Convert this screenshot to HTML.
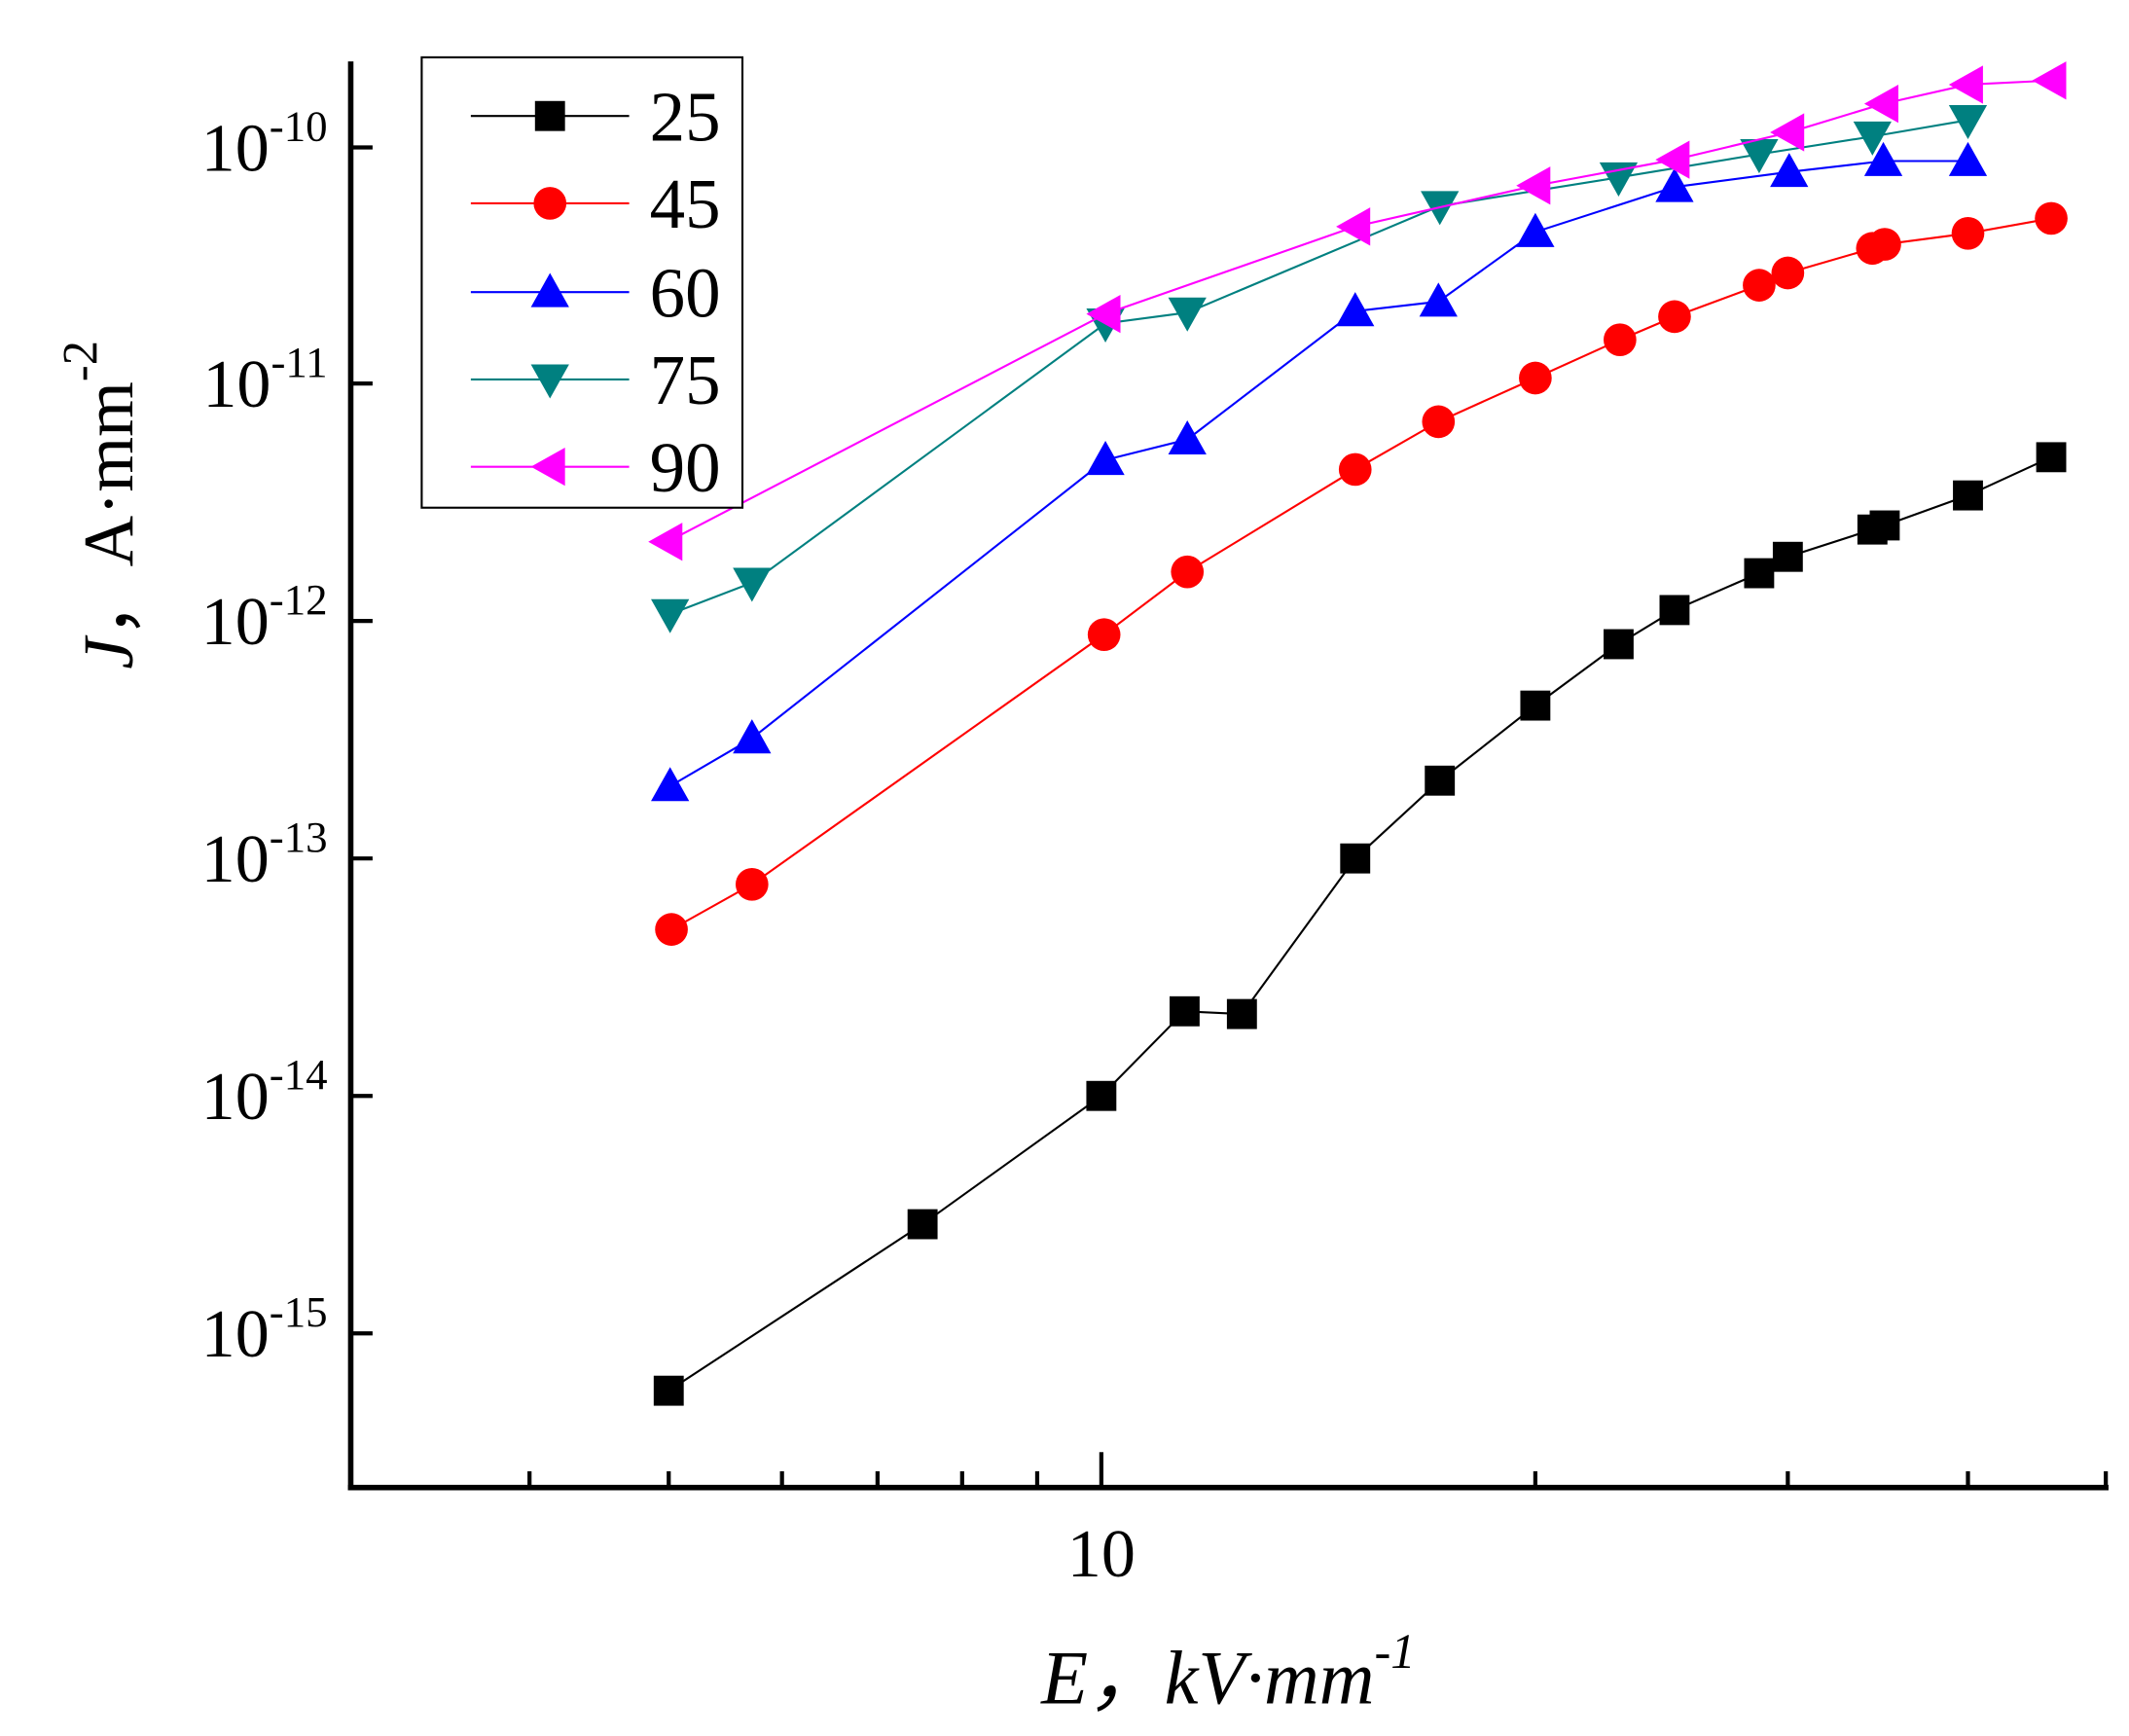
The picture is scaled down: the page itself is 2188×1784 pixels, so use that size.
<!DOCTYPE html>
<html><head><meta charset="utf-8"><style>html,body{margin:0;padding:0;background:#fff}svg{display:block}svg text{font-family:"Liberation Serif",serif}</style></head><body>
<svg width="2188" height="1784" viewBox="0 0 1560 1272" preserveAspectRatio="none" xmlns="http://www.w3.org/2000/svg">
<rect width="1560" height="1272" fill="#fff"/>
<line x1="257" y1="45" x2="257" y2="1092" stroke="#000" stroke-width="4"/>
<line x1="255" y1="1090" x2="1545" y2="1090" stroke="#000" stroke-width="4"/>
<g stroke="#000" stroke-width="3">
<line x1="257" y1="108" x2="273" y2="108"/><line x1="257" y1="281" x2="273" y2="281"/><line x1="257" y1="455" x2="273" y2="455"/>
<line x1="257" y1="629" x2="273" y2="629"/><line x1="257" y1="803" x2="273" y2="803"/><line x1="257" y1="977" x2="273" y2="977"/>
<line x1="388" y1="1090" x2="388" y2="1078"/><line x1="490" y1="1090" x2="490" y2="1078"/><line x1="573" y1="1090" x2="573" y2="1078"/>
<line x1="643" y1="1090" x2="643" y2="1078"/><line x1="705" y1="1090" x2="705" y2="1078"/><line x1="760" y1="1090" x2="760" y2="1078"/>
<line x1="807" y1="1090" x2="807" y2="1064"/><line x1="1125" y1="1090" x2="1125" y2="1078"/><line x1="1310" y1="1090" x2="1310" y2="1078"/>
<line x1="1442" y1="1090" x2="1442" y2="1078"/><line x1="1543" y1="1090" x2="1543" y2="1078"/>
</g>
<g font-size="50" fill="#000" text-anchor="end">
<text x="240" y="125">10<tspan dy="-22" font-size="32">-10</tspan></text>
<text x="240" y="298">10<tspan dy="-22" font-size="32">-11</tspan></text>
<text x="240" y="472">10<tspan dy="-22" font-size="32">-12</tspan></text>
<text x="240" y="646">10<tspan dy="-22" font-size="32">-13</tspan></text>
<text x="240" y="820">10<tspan dy="-22" font-size="32">-14</tspan></text>
<text x="240" y="994">10<tspan dy="-22" font-size="32">-15</tspan></text>
</g>
<text x="807" y="1155" font-size="50" text-anchor="middle">10</text>
<text x="900" y="1248" font-size="56" text-anchor="middle" font-style="italic">E，kV·mm<tspan dy="-26" font-size="36">-1</tspan></text>
<text transform="translate(97,370) rotate(-90)" font-size="52" text-anchor="middle"><tspan font-style="italic">J</tspan>，A·mm<tspan dy="-26" font-size="36">-2</tspan></text>
<polyline fill="none" stroke="#000" stroke-width="1.5" points="490,1019 676,897 807,803 868,741 910,743 993,629 1055,572 1125,517 1186,472 1227,447 1289,420 1310,408 1372,388 1381,385 1442,363 1503,335"/>
<g fill="#000">
<rect x="479" y="1008" width="22" height="22"/><rect x="665" y="886" width="22" height="22"/><rect x="796" y="792" width="22" height="22"/><rect x="857" y="730" width="22" height="22"/><rect x="899" y="732" width="22" height="22"/><rect x="982" y="618" width="22" height="22"/><rect x="1044" y="561" width="22" height="22"/><rect x="1114" y="506" width="22" height="22"/><rect x="1175" y="461" width="22" height="22"/><rect x="1216" y="436" width="22" height="22"/><rect x="1278" y="409" width="22" height="22"/><rect x="1299" y="397" width="22" height="22"/><rect x="1361" y="377" width="22" height="22"/><rect x="1370" y="374" width="22" height="22"/><rect x="1431" y="352" width="22" height="22"/><rect x="1492" y="324" width="22" height="22"/>
</g>
<polyline fill="none" stroke="#f00" stroke-width="1.5" points="492,681 551,648 809,465 870,419 993,344 1054,309 1125,277 1187,249 1227,232 1289,209 1310,200 1372,182 1381,179 1442,171 1503,160"/>
<g fill="#f00">
<circle cx="492" cy="681" r="12"/><circle cx="551" cy="648" r="12"/><circle cx="809" cy="465" r="12"/><circle cx="870" cy="419" r="12"/><circle cx="993" cy="344" r="12"/><circle cx="1054" cy="309" r="12"/><circle cx="1125" cy="277" r="12"/><circle cx="1187" cy="249" r="12"/><circle cx="1227" cy="232" r="12"/><circle cx="1289" cy="209" r="12"/><circle cx="1310" cy="200" r="12"/><circle cx="1372" cy="182" r="12"/><circle cx="1381" cy="179" r="12"/><circle cx="1442" cy="171" r="12"/><circle cx="1503" cy="160" r="12"/>
</g>
<defs>
<path id="up" d="M0,-14 L14,11 L-14,11 Z"/>
<path id="dn" d="M0,14 L14,-11 L-14,-11 Z"/>
<path id="lf" d="M-14,0 L11,-14 L11,14 Z"/>
</defs>
<polyline fill="none" stroke="#00f" stroke-width="1.5" points="491,576 551,541 810,337 870,322 993,228 1054,221 1125,170 1227,137 1311,126 1380,118 1442,118"/>
<g fill="#00f">
<use href="#up" x="491" y="576"/><use href="#up" x="551" y="541"/><use href="#up" x="810" y="337"/><use href="#up" x="870" y="322"/><use href="#up" x="993" y="228"/><use href="#up" x="1054" y="221"/><use href="#up" x="1125" y="170"/><use href="#up" x="1227" y="137"/><use href="#up" x="1311" y="126"/><use href="#up" x="1380" y="118"/><use href="#up" x="1442" y="118"/>
</g>
<polyline fill="none" stroke="#008080" stroke-width="1.5" points="491,450 551,427 810,237 870,229 1055,151 1186,130 1289,113 1372,100 1442,88"/>
<g fill="#008080">
<use href="#dn" x="491" y="450"/><use href="#dn" x="551" y="427"/><use href="#dn" x="810" y="237"/><use href="#dn" x="870" y="229"/><use href="#dn" x="1055" y="151"/><use href="#dn" x="1186" y="130"/><use href="#dn" x="1289" y="113"/><use href="#dn" x="1372" y="100"/><use href="#dn" x="1442" y="88"/>
</g>
<polyline fill="none" stroke="#f0f" stroke-width="1.5" points="489,397 810,230 993,166 1125,136 1227,117 1311,97 1380,76 1442,62 1503,59"/>
<g fill="#f0f">
<use href="#lf" x="489" y="397"/><use href="#lf" x="810" y="230"/><use href="#lf" x="993" y="166"/><use href="#lf" x="1125" y="136"/><use href="#lf" x="1227" y="117"/><use href="#lf" x="1311" y="97"/><use href="#lf" x="1380" y="76"/><use href="#lf" x="1442" y="62"/><use href="#lf" x="1503" y="59"/>
</g>
<rect x="309" y="42" width="235" height="330" fill="#fff" stroke="#000" stroke-width="1.5"/>
<g stroke-width="1.5">
<line x1="345" y1="85" x2="461" y2="85" stroke="#000"/><rect x="392" y="74" width="22" height="22" fill="#000"/>
<line x1="345" y1="149" x2="461" y2="149" stroke="#f00"/><circle cx="403" cy="149" r="12" fill="#f00"/>
<line x1="345" y1="214" x2="461" y2="214" stroke="#00f"/><use href="#up" x="403" y="214" fill="#00f"/>
<line x1="345" y1="278" x2="461" y2="278" stroke="#008080"/><use href="#dn" x="403" y="278" fill="#008080"/>
<line x1="345" y1="342" x2="461" y2="342" stroke="#f0f"/><use href="#lf" x="403" y="342" fill="#f0f"/>
</g>
<g font-size="52" fill="#000">
<text x="476" y="103">25</text><text x="476" y="167">45</text><text x="476" y="232">60</text><text x="476" y="296">75</text><text x="476" y="360">90</text>
</g>
</svg>
</body></html>
